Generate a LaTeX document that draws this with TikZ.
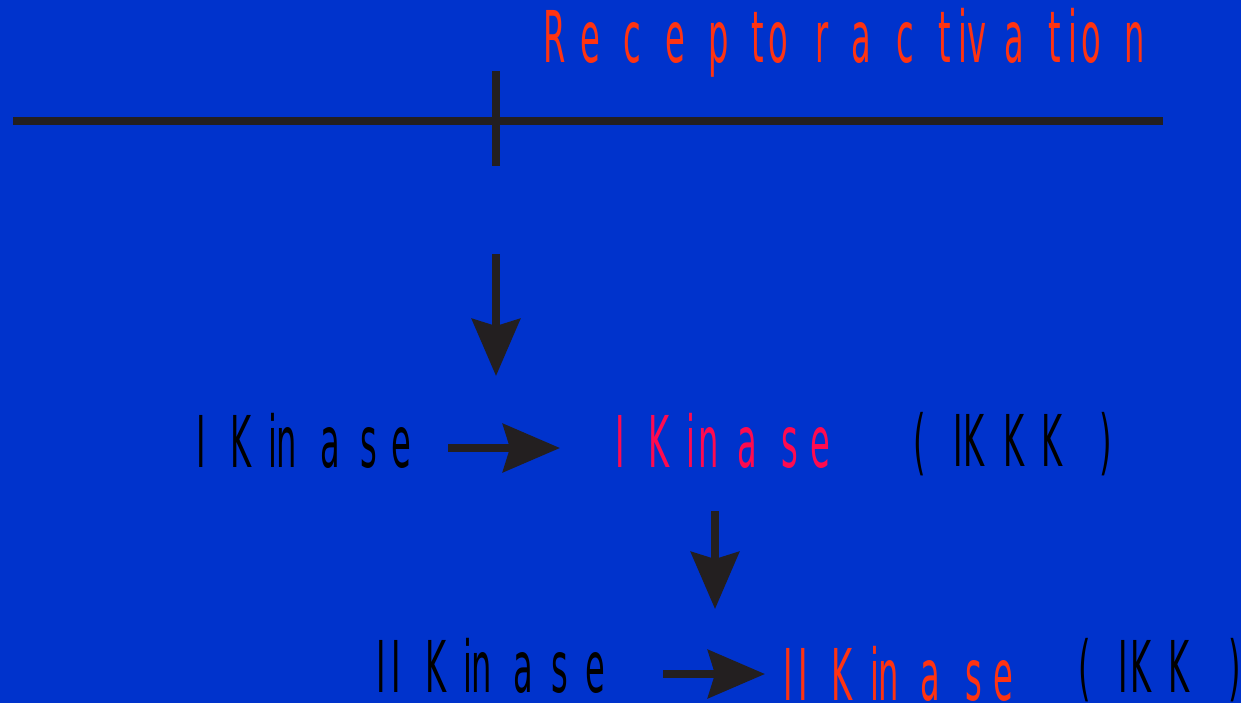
\documentclass[tikz,border=0pt]{standalone}
\usepackage{fontspec}
\usetikzlibrary{arrows.meta}
\newfontfamily\cf[FakeStretch=0.45]{DejaVu Sans}
\newlength\pxu \setlength\pxu{0.5pt}
\newcommand\gl[2]{\makebox[#1\pxu][l]{#2}}
\definecolor{bg}{HTML}{0033CC}
\definecolor{ink}{HTML}{231F20}
\definecolor{orng}{HTML}{FF3311}
\definecolor{pnk}{HTML}{FF0A4F}
\tikzset{
  lbl/.style={anchor=base west, inner sep=0pt, text depth=0pt, font=\cf\fontsize{35.7}{40}\selectfont},
  bar/.style={draw=ink, line width=4pt},
  arr/.style={draw=ink, line width=4pt, -{Stealth[length=28.5pt,width=24pt,inset=3.5pt]}}
}
\begin{document}
\begin{tikzpicture}[x=0.5pt,y=-0.5pt]
\fill[bg] (0,0) rectangle (1241,703);
\useasboundingbox (0,0) rectangle (1241,703);
% membrane line and tick
\coordinate (mL) at (13,121);
\coordinate (mR) at (1163,121);
\coordinate (tT) at (496,71);
\coordinate (tB) at (496,166);
\draw[bar] (mL) -- (mR);
\draw[bar] (tT) -- (tB);
% texts
\node[lbl, text=orng] (rec) at (543,62) {\gl{37}{R}\gl{43}{e}\gl{42}{c}\gl{43}{e}\gl{43}{p}\gl{17}{t}\gl{47}{o}\gl{36}{r }\gl{45}{a}\gl{42}{c}\gl{20}{t}\gl{9}{i}\gl{37}{v}\gl{44}{a}\gl{20}{t}\gl{13}{i}\gl{43}{o}n};
\node[lbl, text=black] (k1a) at (196,467) {\gl{34}{I }\gl{38}{K}\gl{8}{i}\gl{44}{n}\gl{40}{a}\gl{31}{s}e};
\node[lbl, text=pnk] (k1b) at (615,467) {\gl{33}{I }\gl{38}{K}\gl{12}{i}\gl{39}{n}\gl{44}{a}\gl{29}{s}e};
\node[lbl, text=black] (k1c) at (913,466) {\gl{40}{( }\gl{10}{I}\gl{40}{K}\gl{38}{K}\gl{58}{K }{)}};
\node[lbl, text=black] (k2a) at (376,692) {\gl{15}{I}\gl{34}{I }\gl{38}{K}\gl{8}{i}\gl{42}{n}\gl{38}{a}\gl{34}{s}e};
\node[lbl, text=orng] (k2b) at (783,700) {\gl{15}{I}\gl{33}{I }\gl{39}{K}\gl{8}{i}\gl{42}{n}\gl{45}{a}\gl{28}{s}e};
\node[lbl, text=black] (k2c) at (1078,692) {\gl{40}{( }\gl{12}{I}\gl{38}{K}\gl{60}{K }{)}};
% arrows
\coordinate (a1s) at (496,254);
\coordinate (a1e) at (496,376);
\draw[arr] (a1s) -- (a1e);
\coordinate (a2s) at (448,448);
\coordinate (a2e) at (560,448);
\draw[arr] (a2s) -- (a2e);
\coordinate (a3s) at (715,511);
\coordinate (a3e) at (715,609);
\draw[arr] (a3s) -- (a3e);
\coordinate (a4s) at (663,674);
\coordinate (a4e) at (765,674);
\draw[arr] (a4s) -- (a4e);
\end{tikzpicture}
\end{document}
